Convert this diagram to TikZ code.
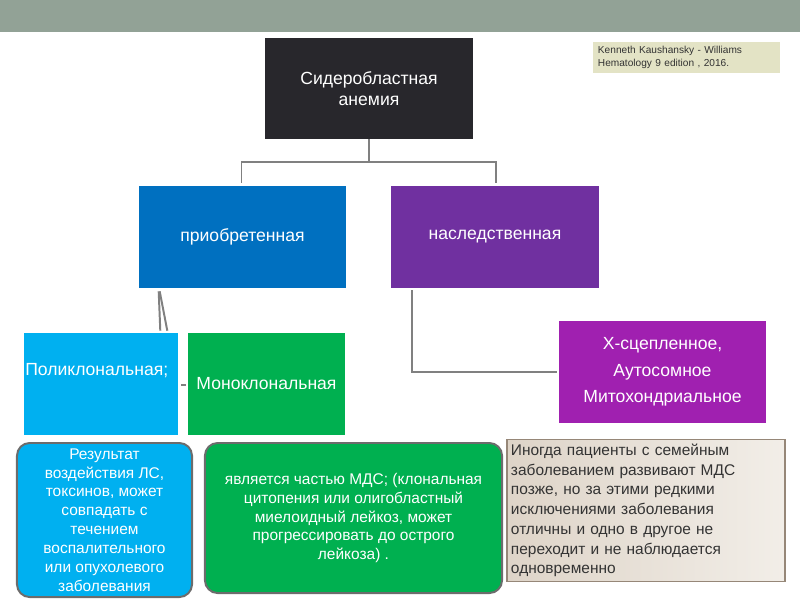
\documentclass[tikz,border=0pt]{standalone}
\usepackage{fontspec}
\setmainfont{Liberation Sans}
\usetikzlibrary{calc}
\definecolor{barcol}{RGB}{146,162,150}
\definecolor{rootcol}{RGB}{40,39,44}
\definecolor{citecol}{RGB}{227,227,197}
\definecolor{acqcol}{RGB}{0,112,192}
\definecolor{hercol}{RGB}{112,48,160}
\definecolor{polycol}{RGB}{0,176,240}
\definecolor{monocol}{RGB}{0,176,80}
\definecolor{xlcol}{RGB}{160,32,176}
\definecolor{linecol}{RGB}{128,128,128}
\definecolor{notecol}{RGB}{222,212,200}
\definecolor{notelite}{RGB}{242,238,232}
\definecolor{noteedge}{RGB}{150,135,120}
\begin{document}
\begin{tikzpicture}[x=0.025cm,y=-0.025cm,
    box/.style={inner sep=2pt,text=white,align=center,font=\fontsize{12.5}{19}\selectfont},
    tile/.style={box,minimum width=5.175cm,minimum height=2.55cm},
    bubble/.style={box,rounded corners=9pt,draw=gray!85!black,line width=1.4pt,
      font=\fontsize{11}{13.4}\selectfont},
    wire/.style={draw=linecol,line width=1.4pt}]
  \useasboundingbox (0,0) rectangle (800,600);
  \fill[barcol] (0,0) rectangle (800,32);
  \node[box,fill=rootcol,minimum width=5.2cm,minimum height=2.525cm,
    font=\fontsize{12.5}{15}\selectfont] (root) at (369,88.5)
    {Сидеробластная\\анемия};
  \node[fill=citecol,minimum height=0.775cm,text width=4.425cm,inner xsep=0.125cm,
    align=left,font=\fontsize{7.2}{9.3}\selectfont,text=black!80] (cite) at (686.5,57.5)
    {Kenneth Kaushansky - Williams\\Hematology 9 edition , 2016.};
  \node[tile,fill=acqcol] (acq) at (242.5,237) {приобретенная};
  \node[tile,fill=hercol] (her) at (495,237) {наследственная};
  \node[box,fill=polycol,minimum width=3.85cm,minimum height=2.55cm] (poly) at (101,384) {};
  \node[box,anchor=west,inner sep=0pt] (polytext) at (25,371) {Поликлональная;};
  \node[box,fill=monocol,minimum width=3.925cm,minimum height=2.55cm] (mono) at (266.5,384)
    {Моноклональная};
  \node[tile,fill=xlcol] (xl) at (662.5,372)
    {X-сцепленное,\\Аутосомное\\Митохондриальное};
  \node[bubble,fill=polycol,minimum width=4.375cm,minimum height=3.85cm] (drug) at (104.5,520)
    {Результат\\воздействия ЛС,\\токсинов, может\\совпадать с\\течением\\воспалительного\\или опухолевого\\заболевания};
  \node[bubble,fill=monocol,minimum width=7.425cm,minimum height=3.75cm] (mds) at (353.5,518)
    {является частью МДС; (клональная\\цитопения или олигобластный\\миелоидный лейкоз, может\\прогрессировать до острого\\лейкоза) .};
  \node[draw=noteedge,line width=0.8pt,left color=notecol,right color=notelite,
    minimum height=3.475cm,text width=6.75cm,inner xsep=0.1cm,align=left,text=black!80,
    font=\fontsize{11}{14}\selectfont] (note) at (646,510.5)
    {Иногда пациенты с семейным\\заболеванием развивают МДС\\позже, но за этими редкими\\исключениями заболевания\\отличны и одно в другое не\\переходит и не наблюдается\\одновременно};
  \coordinate (split) at (369,162);
  \draw[wire] (root) -- (split);
  \draw[wire] ($(acq.north)+(-1,-3)$) |- (split) -| ($(her.north)+(1,-3)$);
  \draw[wire] ($(acq.south west)+(20,3)$) -- ($(poly.north east)+(-18,-2)$);
  \draw[wire] ($(acq.south west)+(21,3)$) -- ($(poly.north east)+(-11,-2)$);
  \draw[wire] ($(poly.east)+(3,1)$) -- ($(mono.west)+(-2,1)$);
  \draw[wire] ($(her.south west)+(21,2)$) |- ($(xl.west)+(-2,0)$);
\end{tikzpicture}
\end{document}
